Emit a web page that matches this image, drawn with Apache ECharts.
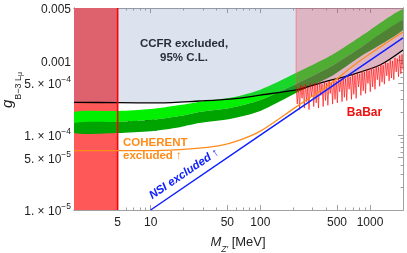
<!DOCTYPE html>
<html><head><meta charset="utf-8">
<script src="https://cdn.jsdelivr.net/npm/echarts@6/dist/echarts.min.js"></script>
<style>html,body{margin:0;padding:0;background:#fff}#c{width:407px;height:253px}</style>
</head><body><div id="c"></div>
<script>
// ---------- data ----------
const xMajorTicks = [5, 10, 50, 100, 500, 1000];
const xMinorTicks = [2, 3, 4, 6, 7, 8, 9, 20, 30, 40, 60, 70, 80, 90, 200, 300, 400, 600, 700, 800, 900, 2000];
const yMajorTicks = [1e-5, 5e-5, 1e-4, 5e-4, 1e-3, 5e-3];
const yMajorLabels = ['1.|−5', '5.|−5', '1.|−4', '5.|−4', '0.001', '0.005'];
const yMinorTicks = [2e-5, 3e-5, 4e-5, 6e-5, 7e-5, 8e-5, 9e-5, 2e-4, 3e-4, 4e-4, 6e-4, 7e-4, 8e-4, 9e-4, 2e-3, 3e-3, 4e-3];

const dNeffM = [2, 5];
const dNeffG = [1e-5, 5e-3];

const ccfrM = [2, 5, 12, 28, 53, 100, 231, 352, 661, 1235, 2000];
const ccfrG = [2.75e-4, 2.72e-4, 2.70e-4, 2.86e-4, 3.03e-4, 3.43e-4, 4.13e-4, 4.97e-4, 6.36e-4, 8.65e-4, 1.37e-3];

const bandM     = [2, 5, 10, 18.4, 28, 53, 100, 211, 431, 809, 2000];
const bandUpper = [2.04e-4, 2.10e-4, 2.23e-4, 2.52e-4, 2.80e-4, 3.15e-4, 4.05e-4, 6.76e-4, 1.14e-3, 2.05e-3, 4.85e-3];
const bandMid   = [1.45e-4, 1.50e-4, 1.59e-4, 1.80e-4, 2.04e-4, 2.30e-4, 2.94e-4, 4.82e-4, 8.13e-4, 1.46e-3, 3.46e-3];
const bandLower = [1.07e-4, 1.07e-4, 1.13e-4, 1.28e-4, 1.45e-4, 1.64e-4, 2.10e-4, 3.65e-4, 5.98e-4, 1.11e-3, 2.54e-3];

const coherentM = [2, 10, 18.4, 28, 42.7, 65, 100, 211, 431, 759, 1231, 2000];
const coherentG = [6.22e-5, 6.22e-5, 6.42e-5, 6.72e-5, 7.26e-5, 8.6e-5, 1.13e-4, 2.37e-4, 4.82e-4, 9.2e-4, 1.5e-3, 2.39e-3];

const nsiM = [10, 100, 1000, 2000];
const nsiG = [1e-5, 1e-4, 1e-3, 2e-3];

const babarM = [212, 217, 223, 228, 234, 240, 246, 252, 258, 265, 271, 278, 285, 292, 300, 307, 315, 323, 331, 339, 348, 356, 365, 374, 384, 393, 403, 413, 424, 434, 445, 456, 468, 480, 492, 504, 516, 529, 543, 556, 570, 584, 599, 614, 629, 645, 661, 678, 695, 712, 730, 748, 767, 786, 806, 826, 847, 868, 889, 912, 934, 958, 982, 1006, 1031, 1057, 1084, 1111, 1139, 1167, 1196, 1226, 1257, 1288, 1320, 1353, 1387, 1422, 1457, 1494, 1531, 1569, 1609, 1649, 1690, 1733, 1776, 1820, 1866, 1913, 1960, 2000];
const babarG = [4.6e-4, 2.6e-4, 4.3e-4, 2.2e-4, 4.7e-4, 3.1e-4, 4.5e-4, 2.3e-4, 4.8e-4, 2.8e-4, 4.4e-4, 2.2e-4, 4.9e-4, 3.3e-4, 4.6e-4, 2.4e-4, 5.0e-4, 2.7e-4, 4.7e-4, 2.3e-4, 5.1e-4, 3.4e-4, 4.8e-4, 2.4e-4, 5.2e-4, 2.9e-4, 5.0e-4, 2.5e-4, 5.3e-4, 3.6e-4, 5.1e-4, 2.6e-4, 5.5e-4, 3.0e-4, 5.3e-4, 2.7e-4, 5.7e-4, 3.8e-4, 5.5e-4, 2.8e-4, 5.9e-4, 3.2e-4, 5.7e-4, 2.9e-4, 6.2e-4, 4.1e-4, 6.0e-4, 3.0e-4, 6.5e-4, 3.5e-4, 6.3e-4, 3.1e-4, 6.8e-4, 4.4e-4, 6.6e-4, 3.4e-4, 7.2e-4, 3.9e-4, 7.0e-4, 3.6e-4, 7.5e-4, 4.9e-4, 7.3e-4, 3.8e-4, 7.9e-4, 4.4e-4, 7.7e-4, 4.1e-4, 8.3e-4, 5.5e-4, 8.1e-4, 4.5e-4, 8.8e-4, 5.1e-4, 8.6e-4, 4.8e-4, 9.4e-4, 6.2e-4, 9.2e-4, 5.3e-4, 1.0e-3, 5.8e-4, 9.8e-4, 5.5e-4, 1.08e-3, 7.0e-4, 1.05e-3, 6.0e-4, 1.16e-3, 6.6e-4, 1.2e-3, 7.5e-4];
const babarEdgeM = [212, 212];
const babarEdgeG = [4.6e-4, 5e-3];

// ---------- helpers ----------
const zip = (a, b) => a.map((v, i) => [v, b[i]]);
const FONT = '"Liberation Sans", Arial, sans-serif';
const frameColor = '#a0a0a0';

function yLabel(v) {
  let best = 0, bd = Infinity;
  yMajorTicks.forEach((t, i) => { const d = Math.abs(Math.log10(v) - Math.log10(t)); if (d < bd) { bd = d; best = i; } });
  const s = yMajorLabels[best];
  if (s.indexOf('|') < 0) return '{n|' + s + '}';
  const p = s.split('|');
  return '{n|' + p[0] + ' × 10}{s|' + p[1] + '}';
}

// closed shape: top edge left->right, bottom edge right->left
function polyRender(topM, topG, botM, botG, fill, smooth) {
  return function (params, api) {
    const a = topM.map((m, i) => api.coord([m, topG[i]]));
    const b = botM.map((m, i) => api.coord([m, botG[i]])).reverse();
    return { type: 'polygon', shape: { points: a.concat(b), smooth: smooth || 0 }, style: { fill: fill } };
  };
}

const baseX = (extra) => Object.assign({
  type: 'log', min: 2, max: 2000, logBase: 10,
  axisLine: { show: true, onZero: false, lineStyle: { color: frameColor, width: 1 } },
  splitLine: { show: false }, minorTick: { show: false }
}, extra);
const baseY = (extra) => Object.assign({
  type: 'log', min: 1e-5, max: 5e-3, logBase: 10,
  axisLine: { show: true, onZero: false, lineStyle: { color: frameColor, width: 1 } },
  splitLine: { show: false }, minorTick: { show: false }
}, extra);

const option = {
  animation: false,
  backgroundColor: '#fff',
  grid: { left: 74, right: 4, top: 8, bottom: 43, containLabel: false },
  xAxis: [
    baseX({ position: 'bottom',
      axisTick: { inside: true, length: 5, lineStyle: { color: frameColor }, customValues: xMajorTicks },
      axisLabel: { customValues: xMajorTicks, margin: 7, color: '#222', fontSize: 12, fontFamily: FONT, formatter: v => String(Math.round(v)) } }),
    baseX({ position: 'bottom',
      axisTick: { inside: true, length: 2.5, lineStyle: { color: frameColor }, customValues: xMinorTicks },
      axisLabel: { show: false } }),
    baseX({ position: 'top',
      axisTick: { inside: true, length: 5, lineStyle: { color: frameColor }, customValues: xMajorTicks },
      axisLabel: { show: false } }),
    baseX({ position: 'top',
      axisTick: { inside: true, length: 2.5, lineStyle: { color: frameColor }, customValues: xMinorTicks },
      axisLabel: { show: false } })
  ],
  yAxis: [
    baseY({ position: 'left',
      axisTick: { inside: true, length: 5, lineStyle: { color: frameColor }, customValues: yMajorTicks },
      axisLabel: { customValues: yMajorTicks, margin: 3, color: '#222', fontFamily: FONT, formatter: yLabel,
        rich: { n: { fontSize: 12, fontFamily: FONT, color: '#222', lineHeight: 16, verticalAlign: 'bottom' },
                s: { fontSize: 8.5, fontFamily: FONT, color: '#222', lineHeight: 10, verticalAlign: 'top' } } } }),
    baseY({ position: 'left',
      axisTick: { inside: true, length: 2.5, lineStyle: { color: frameColor }, customValues: yMinorTicks },
      axisLabel: { show: false } }),
    baseY({ position: 'right',
      axisTick: { inside: true, length: 5, lineStyle: { color: frameColor }, customValues: yMajorTicks },
      axisLabel: { show: false } }),
    baseY({ position: 'right',
      axisTick: { inside: true, length: 2.5, lineStyle: { color: frameColor }, customValues: yMinorTicks },
      axisLabel: { show: false } })
  ],
  series: [
    { type: 'custom', name: 'dNeff', coordinateSystem: 'cartesian2d', data: [[2, 1e-4]], silent: true, clip: true,
      renderItem: polyRender([dNeffM[0], dNeffM[1]], [dNeffG[1], dNeffG[1]], [dNeffM[0], dNeffM[1]], [dNeffG[0], dNeffG[0]], '#ff5858') },
    { type: 'line', name: 'CCFR area', data: zip(ccfrM, ccfrG), symbol: 'none', smooth: 0.3,
      lineStyle: { width: 0, opacity: 0 }, areaStyle: { origin: 'end', color: 'rgba(107,133,181,0.23)', opacity: 1 } },
    { type: 'custom', name: 'g-2 upper part', coordinateSystem: 'cartesian2d', data: [[2, 1e-4]], silent: true, clip: true,
      renderItem: polyRender(bandM, bandUpper, bandM, bandMid, '#00f000', 0.25) },
    { type: 'custom', name: 'g-2 lower part', coordinateSystem: 'cartesian2d', data: [[2, 1e-4]], silent: true, clip: true,
      renderItem: polyRender(bandM, bandMid, bandM, bandLower, '#00a400', 0.25) },
    { type: 'line', name: 'CCFR', data: zip(ccfrM, ccfrG), symbol: 'none', smooth: 0.3,
      lineStyle: { width: 1.3, color: '#000' } },
    { type: 'line', name: 'dNeff edge', data: zip([5, 5], [1e-5, 5e-3]), symbol: 'none',
      lineStyle: { width: 1.6, color: '#ff0000' } },
    { type: 'line', name: 'BaBar', data: zip(babarM, babarG), symbol: 'none',
      lineStyle: { width: 0.6, color: '#ff0000' }, areaStyle: { origin: 'end', color: 'rgba(225,60,80,0.27)', opacity: 1 } },
    { type: 'line', name: 'BaBar edge', data: zip(babarEdgeM, babarEdgeG), symbol: 'none',
      lineStyle: { width: 0.8, color: 'rgba(240,90,100,0.7)' } },
    { type: 'line', name: 'COHERENT', data: zip(coherentM, coherentG), symbol: 'none', smooth: 0.3,
      lineStyle: { width: 1.3, color: '#ff8c1a' } },
    { type: 'line', name: 'NSI', data: zip(nsiM, nsiG), symbol: 'none',
      lineStyle: { width: 1.5, color: '#1020ff' } }
  ],
  graphic: [
    { type: 'text', x: 184, y: 51, silent: true, style: { text: 'CCFR excluded,\n95% C.L.', align: 'center', verticalAlign: 'middle',
      font: 'bold 11.5px ' + FONT, lineHeight: 13.5, fill: '#111' } },
    { type: 'text', x: 127, y: 121, silent: true, style: { text: '{a|(g−2)}{b|μ}', verticalAlign: 'middle',
      rich: { a: { font: 'bold 11.5px ' + FONT, fill: '#111', lineHeight: 14, verticalAlign: 'top' },
              b: { font: 'bold 8px ' + FONT, fill: '#111', lineHeight: 19, verticalAlign: 'bottom' } } } },
    { type: 'text', x: 123, y: 142.5, silent: true, style: { text: 'COHERENT', verticalAlign: 'middle',
      font: 'bold 11.5px ' + FONT, fill: '#ff8c1a' } },
    { type: 'text', x: 123, y: 156, silent: true, style: { text: 'excluded ↑', verticalAlign: 'middle',
      font: 'bold 11.5px ' + FONT, fill: '#ff8c1a' } },
    { type: 'text', x: 184, y: 174, rotation: 34 * Math.PI / 180, silent: true, style: { text: 'NSI excluded ↑', align: 'center', verticalAlign: 'middle',
      font: 'italic bold 11.5px ' + FONT, fill: '#1020ff' } },
    { type: 'text', x: 364.5, y: 112.5, silent: true, style: { text: 'BaBar', align: 'center', verticalAlign: 'middle',
      font: 'bold 12px ' + FONT, fill: '#ee1111' } },
    { type: 'text', x: 103.5, y: 191.5, rotation: Math.PI / 2, silent: true, style: { text: '{a|ΔN}{b|eff}', align: 'center', verticalAlign: 'middle',
      rich: { a: { font: 'bold 12px ' + FONT, fill: '#fff', lineHeight: 14, verticalAlign: 'top' },
              b: { font: 'bold 8px ' + FONT, fill: '#fff', lineHeight: 18, verticalAlign: 'bottom' } } } },
    { type: 'text', x: 12, y: 90, rotation: Math.PI / 2, silent: true, style: { text: '{g|g}{s|B−3 L}{m|μ}', align: 'center', verticalAlign: 'middle',
      rich: { g: { font: 'italic 15px ' + FONT, fill: '#222', lineHeight: 16, verticalAlign: 'top' },
              s: { font: '9px ' + FONT, fill: '#222', lineHeight: 20, verticalAlign: 'bottom' },
              m: { font: '7px ' + FONT, fill: '#222', lineHeight: 23, verticalAlign: 'bottom' } } } },
    { type: 'text', x: 238, y: 245, silent: true, style: { text: '{m|M}{z|Z′}{u| [MeV]}', align: 'center', verticalAlign: 'middle',
      rich: { m: { font: 'italic 13px ' + FONT, fill: '#222', lineHeight: 15, verticalAlign: 'top' },
              z: { font: 'italic 8.5px ' + FONT, fill: '#222', lineHeight: 19, verticalAlign: 'bottom' },
              u: { font: '13px ' + FONT, fill: '#222', lineHeight: 15, verticalAlign: 'top' } } } }
  ]
};
const chart = echarts.init(document.getElementById('c'));
chart.setOption(option);
</script>
</body></html>
